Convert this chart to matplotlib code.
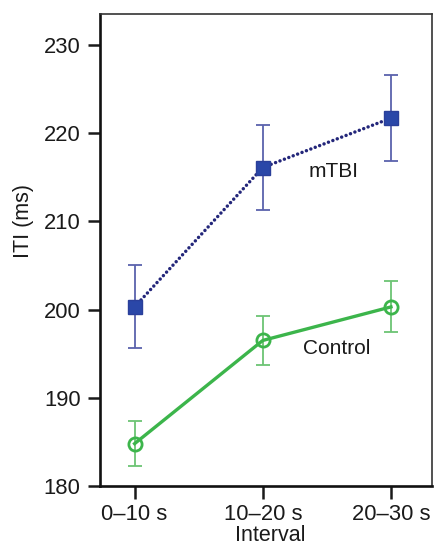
import matplotlib
matplotlib.use("Agg")
import matplotlib.pyplot as plt

intervals = ["0–10 s", "10–20 s", "20–30 s"]
mtbi_mean = [200.3, 216.1, 221.7]
mtbi_err = [4.7, 4.85, 4.9]
control_mean = [184.8, 196.5, 200.3]
control_err = [2.55, 2.8, 2.9]
yticks = [180, 190, 200, 210, 220, 230]

plt.rcParams['font.family'] = ['Liberation Sans', 'DejaVu Sans']

fig = plt.figure(figsize=(4.36, 5.46), dpi=100)
ax = fig.add_axes([100/436, 60/546, 332/436, 472/546])

x = list(range(len(intervals)))

# mTBI
ax.errorbar(x, mtbi_mean, yerr=mtbi_err, fmt='none', ecolor='#5b62ad',
            elinewidth=1.3, capsize=5, capthick=1.3, zorder=2)
ax.plot(x, mtbi_mean, color='#23267a', linestyle=(0, (0.01, 1.35)),
        linewidth=2.5, dash_capstyle='round', zorder=3)
ax.plot(x, mtbi_mean, linestyle='none', marker='s', markersize=10,
        markerfacecolor='#2a47a8', markeredgecolor='#2a3f9a', markeredgewidth=1, zorder=4)

# Control
ax.errorbar(x, control_mean, yerr=control_err, fmt='none', ecolor='#6cc474',
            elinewidth=1.3, capsize=5, capthick=1.3, zorder=2)
ax.plot(x, control_mean, color='#3cb54b', linewidth=2.4, zorder=3,
        marker='o', markersize=9.5, markerfacecolor='none',
        markeredgecolor='#3cb54b', markeredgewidth=2)

ax.text(1.55, 215.6, "mTBI", fontsize=15, ha='center', va='center', color='#1a1a1a')
ax.text(1.58, 195.6, "Control", fontsize=15, ha='center', va='center', color='#1a1a1a')

ax.set_xlim(-0.27, 2.32)
ax.set_ylim(180, 233.5)
ax.set_xticks(x)
ax.set_xticklabels(intervals)
ax.set_yticks(yticks)

ax.tick_params(axis='both', direction='out', length=9, width=1.8, labelsize=15.8,
               pad=4, colors='#1a1a1a')
ax.tick_params(axis='y', pad=5)

for s in ['left', 'bottom']:
    ax.spines[s].set_linewidth(1.9)
    ax.spines[s].set_color('#111111')
for s in ['top', 'right']:
    ax.spines[s].set_linewidth(1.2)
    ax.spines[s].set_color('#333333')

ax.set_ylabel("ITI (ms)", fontsize=15.5, color='#1a1a1a')
ax.yaxis.set_label_coords(-0.20, 0.561)
ax.set_xlabel("Interval", fontsize=15.5, color='#1a1a1a')
ax.xaxis.set_label_coords(0.512, -0.082)

fig.savefig("out.png", dpi=100)
